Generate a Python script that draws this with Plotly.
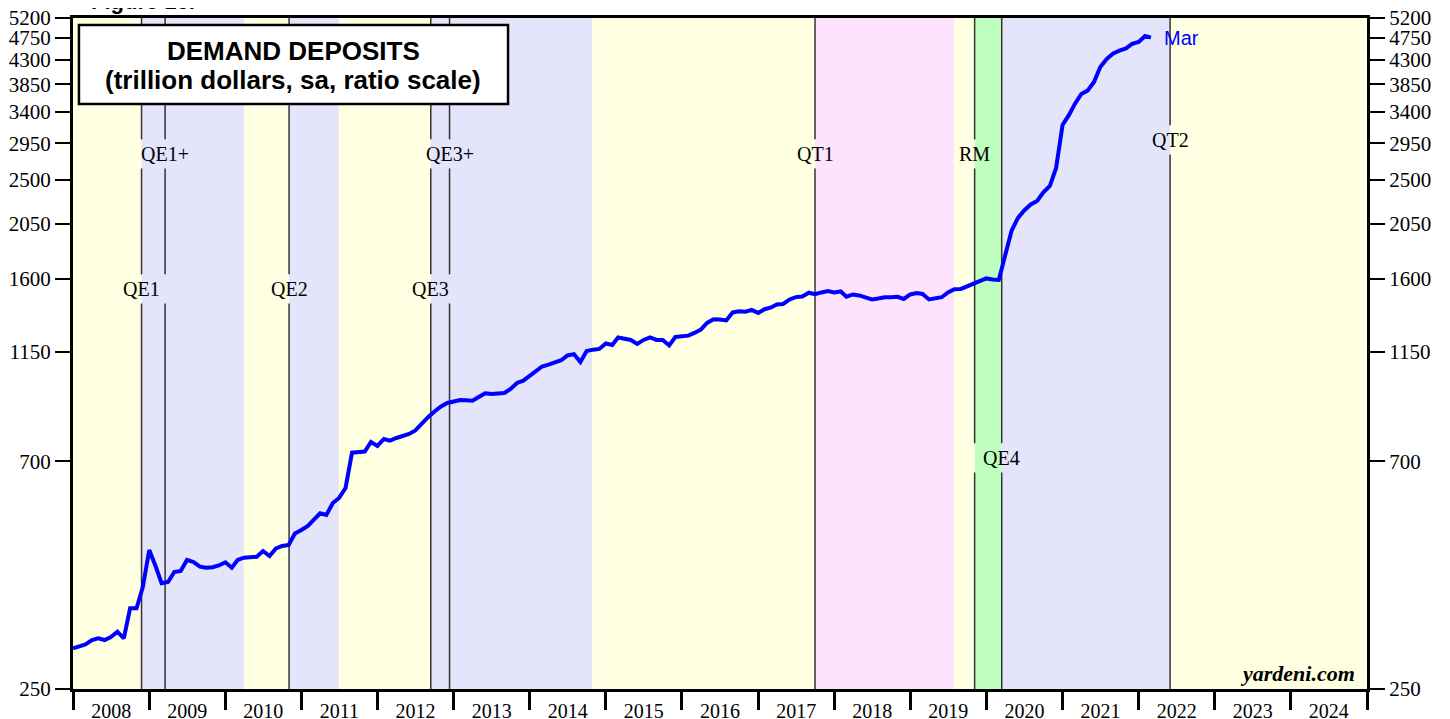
import math
import pandas as pd
import plotly.graph_objects as go

# ---------------- data ----------------
start_month = "2008-01-01"
deposits = [
    300.5, 303.0, 305.8, 312.0, 314.4, 312.0, 316.3, 324.0, 314.4, 360.2, 360.2, 396.6,   # 2008
    468.8, 435.1, 403.3, 405.7, 424.4, 426.4, 448.1, 444.1, 434.7, 432.8, 433.6, 437.1,   # 2009
    443.5, 432.8, 448.1, 452.8, 452.8, 454.8, 466.7, 456.3, 472.0, 477.4, 479.6, 505.2,   # 2010
    513.2, 522.6, 537.0, 553.5, 549.3, 579.9, 593.2, 620.6, 728.1, 728.7, 732.0, 764.2,   # 2011
    750.5, 774.6, 768.7, 778.1, 783.4, 792.4, 805.0, 831.7, 855.7, 877.3, 897.3, 911.6,   # 2012
    919.9, 924.1, 922.8, 921.2, 936.7, 952.5, 949.5, 950.4, 953.8, 971.2, 998.0, 1008.4,  # 2013
    1032.4, 1056.0, 1075.3, 1084.1, 1094.9, 1105.9, 1130.2, 1136.8, 1097.4, 1153.4, 1160.2, 1163.9,  # 2014
    1193.2, 1185.2, 1226.1, 1220.5, 1212.3, 1190.5, 1212.3, 1226.1, 1212.3, 1212.3, 1182.5, 1228.8,  # 2015
    1234.4, 1236.1, 1251.3, 1270.1, 1309.2, 1331.3, 1330.1, 1324.1, 1372.9, 1380.3, 1377.8, 1388.5,  # 2016
    1369.8, 1392.9, 1402.4, 1423.5, 1426.7, 1456.0, 1471.3, 1475.9, 1500.8, 1490.7, 1502.9, 1513.1,  # 2017
    1502.9, 1509.7, 1474.6, 1489.4, 1482.6, 1469.3, 1456.0, 1462.6, 1470.6, 1470.6, 1473.9, 1459.3,  # 2018
    1489.4, 1499.5, 1492.7, 1456.0, 1462.6, 1470.6, 1502.9, 1524.8, 1526.9, 1544.2, 1561.8, 1576.0,  # 2019
    1601.2, 1593.9, 1590.3, 1780.7, 1985.0, 2105.3, 2177.9, 2237.8, 2273.6, 2362.7, 2433.2, 2639.6,  # 2020
    3206.3, 3354.5, 3525.7, 3688.8, 3744.3, 3894.6, 4168.0, 4321.5, 4430.4, 4484.9, 4531.8, 4625.0,  # 2021
    4667.0, 4795.4, 4758.7,                                                                      # 2022
]
dates = pd.date_range(start_month, periods=len(deposits), freq="MS")
last_label = "Mar"

y_ticks = [250, 700, 1150, 1600, 2050, 2500, 2950, 3400, 3850, 4300, 4750, 5200]
y_min, y_max = 250, 5200
x_start, x_end = "2008-01-01", "2025-01-01"

# policy event lines
event_names = ["QE1", "QE1+", "QE2", "QE3", "QE3+", "QT1", "RM", "QE4", "QT2"]
event_dates = ["2008-11-25", "2009-03-18", "2010-11-03", "2012-09-13", "2012-12-12",
               "2017-10-01", "2019-11-06", "2020-03-15", "2022-06-01"]
event_label_levels = [1527, 2812, 1527, 1527, 2812, 2812, 2812, 711, 2996]

# shaded policy regimes
regime_starts = ["2008-01-01", "2008-11-25", "2010-03-31", "2010-11-03", "2011-06-30",
                 "2012-09-13", "2014-10-29", "2017-10-01", "2019-08-01", "2019-11-06",
                 "2020-03-15", "2022-06-01"]
regime_ends = ["2008-11-25", "2010-03-31", "2010-11-03", "2011-06-30", "2012-09-13",
               "2014-10-29", "2017-10-01", "2019-08-01", "2019-11-06", "2020-03-15",
               "2022-06-01", "2025-01-01"]
regime_kinds = ["neutral", "ease", "neutral", "ease", "neutral", "ease", "neutral",
                "tight", "neutral", "rm", "ease", "neutral"]

# ---------------- styles ----------------
kind_colors = {"neutral": "rgb(255,255,226)", "ease": "rgb(228,228,251)",
               "tight": "rgb(253,227,253)", "rm": "rgb(190,255,190)"}
serif = "Liberation Serif, Times New Roman, serif"
sans = "Liberation Sans, Arial, sans-serif"

fig = go.Figure()

fig.add_trace(go.Scatter(
    x=dates, y=deposits, mode="lines",
    line=dict(color="#0000FF", width=4), showlegend=False, hoverinfo="x+y"))
# invisible trace to activate right-hand axis
fig.add_trace(go.Scatter(
    x=[dates[0]], y=[deposits[0]], yaxis="y2", mode="markers",
    marker=dict(opacity=0), showlegend=False, hoverinfo="skip"))

shapes = []
for s, e, k in zip(regime_starts, regime_ends, regime_kinds):
    shapes.append(dict(type="rect", xref="x", yref="paper", x0=s, x1=e, y0=0, y1=1,
                       fillcolor=kind_colors[k], line=dict(width=0), layer="below"))

# vertical event lines, broken around labels
gap = 1.068
label_info = list(zip(event_names, event_dates, event_label_levels))
for name, d, lvl in label_info:
    dt = pd.Timestamp(d)
    gaps = []
    for n2, d2, l2 in label_info:
        dd = abs((pd.Timestamp(d2) - dt).days)
        half_days = 11 * len(n2) * 365.25 / 76.1
        if dd <= half_days or n2 == name:
            gaps.append((l2 / gap, l2 * gap))
    gaps.sort()
    segs = []
    lo = y_min
    for g0, g1 in gaps:
        if g0 > lo:
            segs.append((lo, g0))
        lo = max(lo, g1)
    segs.append((lo, y_max))
    for a, b in segs:
        shapes.append(dict(type="line", xref="x", yref="y", x0=d, x1=d, y0=a, y1=b,
                           line=dict(color="#333333", width=1.5), layer="below"))

# title box
shapes.append(dict(type="rect", xref="paper", yref="paper",
                   x0=0.0046, x1=0.3362, y0=0.8718, y1=0.9896,
                   fillcolor="white", line=dict(color="black", width=2.5), layer="above"))

annotations = []
for name, d, lvl in label_info:
    annotations.append(dict(x=d, y=math.log10(lvl), xref="x", yref="y", text=name,
                            showarrow=False, font=dict(family=serif, size=20, color="black"),
                            xanchor="center", yanchor="middle"))

annotations += [
    dict(x=0.1704, y=0.951, xref="paper", yref="paper", text="<b>DEMAND DEPOSITS</b>",
         showarrow=False, xanchor="center", yanchor="middle",
         font=dict(family=sans, size=26, color="black")),
    dict(x=0.1704, y=0.907, xref="paper", yref="paper",
         text="<b>(trillion dollars, sa, ratio scale)</b>",
         showarrow=False, xanchor="center", yanchor="middle",
         font=dict(family=sans, size=26, color="black")),
    dict(x=dates[-1], y=math.log10(deposits[-1]), xref="x", yref="y", text=last_label,
         showarrow=False, xanchor="left", yanchor="middle", xshift=11,
         font=dict(family=sans, size=20, color="#0000FF")),
    dict(x=0.9925, y=0.002, xref="paper", yref="paper", text="<b><i>yardeni.com</i></b>",
         showarrow=False, xanchor="right", yanchor="bottom",
         font=dict(family=serif, size=22, color="black")),
    dict(x=0.012, y=1.0035, xref="paper", yref="paper", text="<b>Figure 13.</b>",
         showarrow=False, xanchor="left", yanchor="bottom",
         font=dict(family=sans, size=22, color="black")),
]

yaxis_common = dict(type="log", range=[math.log10(y_min), math.log10(y_max)],
                    tickvals=y_ticks, ticktext=[str(v) for v in y_ticks],
                    ticks="outside", ticklen=15, tickwidth=1.5, tickcolor="black",
                    showgrid=False, zeroline=False, showline=True, linewidth=3,
                    linecolor="black", automargin=False, ticklabeloverflow="allow",
                    tickfont=dict(family=serif, size=21, color="black"))

# page body has an 8px default margin, so the figure is offset by 8px
fig.update_layout(
    width=1450, height=719,
    margin=dict(l=65, r=91, t=10, b=38, autoexpand=False),
    paper_bgcolor="white", plot_bgcolor="white",
    shapes=shapes, annotations=annotations,
    xaxis=dict(type="date", range=[x_start, x_end], tick0="2008-01-01", dtick="M12",
               tickformat="%Y", ticklabelmode="period", ticks="outside", ticklen=18,
               tickwidth=2.5, tickcolor="black", ticklabelstandoff=-16,
               ticklabeloverflow="allow",
               showgrid=False, zeroline=False, automargin=False,
               showline=True, linewidth=3, linecolor="black", mirror=True,
               tickfont=dict(family=serif, size=20, color="black")),
    yaxis=dict(side="left", **yaxis_common),
    yaxis2=dict(side="right", overlaying="y", **yaxis_common),
    hovermode=False,
)

fig.write_html("out.html")
